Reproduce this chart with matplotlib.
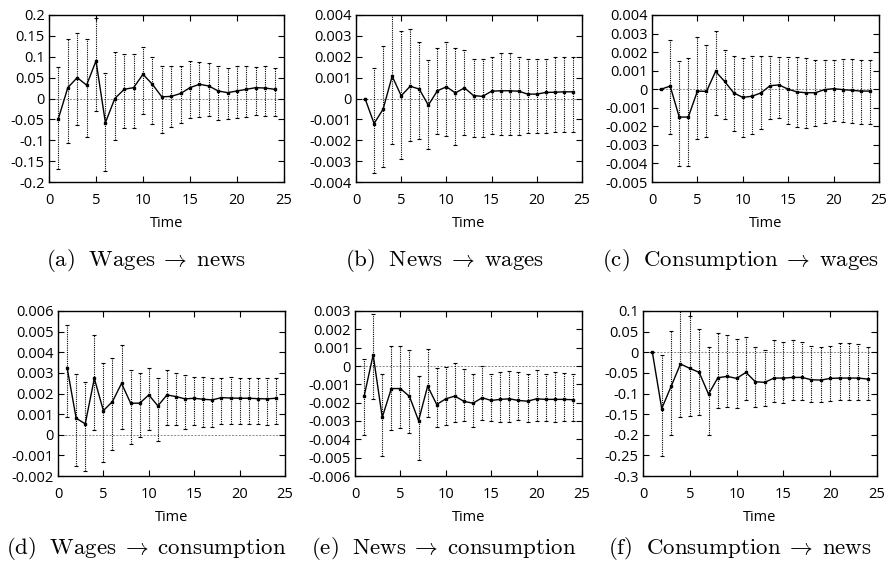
import numpy as np
import matplotlib
matplotlib.use("Agg")
import matplotlib.pyplot as plt

plt.rcParams['font.family'] = ['Open Sans', 'DejaVu Sans']
plt.rcParams['mathtext.fontset'] = 'cm'

t = list(range(1, 25))

# (a) Wages -> news
a_val = [-0.048, 0.026, 0.050, 0.032, 0.090, -0.058, 0.000, 0.022, 0.026, 0.058, 0.034, 0.004,
         0.005, 0.012, 0.026, 0.034, 0.030, 0.018, 0.014, 0.018, 0.022, 0.026, 0.025, 0.022]
a_hi = [0.076, 0.142, 0.156, 0.142, 0.192, 0.062, 0.112, 0.106, 0.106, 0.124, 0.100, 0.078,
        0.078, 0.078, 0.090, 0.088, 0.086, 0.078, 0.074, 0.078, 0.078, 0.076, 0.078, 0.074]
a_lo = [-0.168, -0.106, -0.064, -0.092, -0.030, -0.174, -0.100, -0.070, -0.070, -0.038, -0.060, -0.082,
        -0.068, -0.058, -0.046, -0.044, -0.042, -0.052, -0.050, -0.046, -0.044, -0.039, -0.042, -0.042]

# (b) News -> wages
b_val = [0.0, -0.00120, -0.00051, 0.00107, 0.00013, 0.00059, 0.00045, -0.00032, 0.00037, 0.00056,
         0.00027, 0.00051, 0.00014, 0.00010, 0.00035, 0.00037, 0.00037, 0.00035, 0.00021, 0.00021,
         0.00029, 0.00030, 0.00032, 0.00032]
b_hi = [0.0, 0.00147, 0.00253, 0.00420, 0.00323, 0.00331, 0.00269, 0.00184, 0.00240, 0.00269,
        0.00240, 0.00232, 0.00187, 0.00190, 0.00200, 0.00216, 0.00216, 0.00197, 0.00189, 0.00189,
        0.00189, 0.00197, 0.00200, 0.00197]
b_lo = [0.0, -0.00357, -0.00328, -0.00216, -0.00288, -0.00203, -0.00192, -0.00243, -0.00171, -0.00181,
        -0.00221, -0.00176, -0.00184, -0.00184, -0.00168, -0.00173, -0.00176, -0.00173, -0.00165, -0.00165,
        -0.00163, -0.00160, -0.00160, -0.00160]

# (c) Consumption -> wages
c_val = [0.0, 0.00017, -0.00150, -0.00150, -0.00010, -0.00012, 0.00096, 0.00042, -0.00020, -0.00044,
         -0.00038, -0.00020, 0.00019, 0.00023, 0.00000, -0.00015, -0.00019, -0.00019, -0.00002, 0.00003,
         -0.00002, -0.00006, -0.00010, -0.00010]
c_hi = [0.0, 0.00266, 0.00150, 0.00168, 0.00280, 0.00236, 0.00316, 0.00210, 0.00180, 0.00168,
        0.00177, 0.00177, 0.00177, 0.00173, 0.00173, 0.00171, 0.00168, 0.00159, 0.00159, 0.00159,
        0.00162, 0.00162, 0.00159, 0.00159]
c_lo = [0.0, -0.00244, -0.00415, -0.00415, -0.00268, -0.00260, -0.00140, -0.00160, -0.00227, -0.00257,
        -0.00244, -0.00214, -0.00159, -0.00155, -0.00187, -0.00203, -0.00209, -0.00196, -0.00182, -0.00170,
        -0.00175, -0.00182, -0.00186, -0.00186]

# (d) Wages -> consumption
d_val = [0.00326, 0.00080, 0.00053, 0.00273, 0.00117, 0.00161, 0.00249, 0.00153, 0.00153, 0.00193,
         0.00140, 0.00193, 0.00185, 0.00174, 0.00177, 0.00172, 0.00169, 0.00180, 0.00178, 0.00177,
         0.00177, 0.00175, 0.00174, 0.00177]
d_hi = [0.00531, 0.00293, 0.00257, 0.00482, 0.00350, 0.00370, 0.00434, 0.00314, 0.00297, 0.00326,
        0.00273, 0.00314, 0.00301, 0.00289, 0.00281, 0.00278, 0.00273, 0.00277, 0.00278, 0.00277,
        0.00277, 0.00273, 0.00273, 0.00273]
d_lo = [0.00088, -0.00153, -0.00174, 0.00024, -0.00132, -0.00076, 0.00027, -0.00045, -0.00011, 0.00024,
        -0.00032, 0.00048, 0.00045, 0.00027, 0.00045, 0.00040, 0.00040, 0.00053, 0.00053, 0.00053,
        0.00053, 0.00051, 0.00048, 0.00053]

# (e) News -> consumption
e_val = [-0.00166, 0.00061, -0.00280, -0.00123, -0.00123, -0.00166, -0.00298, -0.00110, -0.00210, -0.00179,
         -0.00164, -0.00193, -0.00203, -0.00173, -0.00188, -0.00182, -0.00179, -0.00188, -0.00192, -0.00179,
         -0.00182, -0.00182, -0.00182, -0.00184]
e_hi = [0.00039, 0.00285, -0.00041, 0.00107, 0.00107, 0.00088, -0.00055, 0.00092, -0.00013, -0.00004,
        0.00015, -0.00018, -0.00044, 0.00002, -0.00041, -0.00031, -0.00026, -0.00035, -0.00044, -0.00022,
        -0.00044, -0.00035, -0.00037, -0.00041]
e_lo = [-0.00376, -0.00179, -0.00492, -0.00348, -0.00339, -0.00366, -0.00514, -0.00276, -0.00335, -0.00322,
        -0.00304, -0.00302, -0.00330, -0.00295, -0.00298, -0.00308, -0.00308, -0.00295, -0.00308, -0.00298,
        -0.00298, -0.00304, -0.00302, -0.00298]

# (f) Consumption -> news
f_val = [0.0, -0.1366, -0.083, -0.0285, -0.039, -0.0488, -0.1016, -0.0618, -0.0585, -0.0634,
         -0.0488, -0.0715, -0.073, -0.0626, -0.0626, -0.061, -0.061, -0.0667, -0.0675, -0.0634,
         -0.0626, -0.0626, -0.0626, -0.065]
f_hi = [0.0, -0.0065, 0.051, 0.100, 0.087, 0.057, 0.0122, 0.046, 0.041, 0.0325,
        0.0366, 0.0138, 0.0057, 0.0285, 0.0244, 0.0285, 0.0244, 0.0146, 0.0138, 0.0163,
        0.022, 0.022, 0.0203, 0.0138]
f_lo = [0.0, -0.252, -0.200, -0.157, -0.154, -0.152, -0.200, -0.136, -0.132, -0.134,
        -0.116, -0.1325, -0.130, -0.1195, -0.122, -0.1155, -0.1155, -0.1195, -0.1195, -0.118,
        -0.116, -0.116, -0.1155, -0.116]

captions = [r'$\mathrm{(a)\ \ Wages}\;\rightarrow\;\mathrm{news}$',
            r'$\mathrm{(b)\ \ News}\;\rightarrow\;\mathrm{wages}$',
            r'$\mathrm{(c)\ \ Consumption}\;\rightarrow\;\mathrm{wages}$',
            r'$\mathrm{(d)\ \ Wages}\;\rightarrow\;\mathrm{consumption}$',
            r'$\mathrm{(e)\ \ News}\;\rightarrow\;\mathrm{consumption}$',
            r'$\mathrm{(f)\ \ Consumption}\;\rightarrow\;\mathrm{news}$']

panels = [
    (a_val, a_lo, a_hi, (-0.2, 0.2), 0.05),
    (b_val, b_lo, b_hi, (-0.004, 0.004), 0.001),
    (c_val, c_lo, c_hi, (-0.005, 0.004), 0.001),
    (d_val, d_lo, d_hi, (-0.002, 0.006), 0.001),
    (e_val, e_lo, e_hi, (-0.006, 0.003), 0.001),
    (f_val, f_lo, f_hi, (-0.3, 0.1), 0.05),
]

W, H = 890, 568
# axes boxes in pixels: left, right, top, bottom
boxes = [(49, 284, 15, 182), (356, 582, 15, 182), (652, 879, 15, 182),
         (58, 285, 311, 476), (355, 582, 311, 476), (643, 877, 311, 476)]
cap_x = [146, 444, 741, 146, 444, 740]
cap_y = [260, 260, 260, 548, 548, 548]

fig = plt.figure(figsize=(W / 100, H / 100), dpi=100)

for i, (val, lo, hi, ylim, step) in enumerate(panels):
    l, r, tp, b = boxes[i]
    ax = fig.add_axes([l / W, 1 - b / H, (r - l) / W, (b - tp) / H])
    val = np.array(val)
    err = [val - np.array(lo), np.array(hi) - val]
    ax.axhline(0, color='#888888', lw=0.7, ls=(0, (2, 1.5)), zorder=1)
    line, caps, bars = ax.errorbar(t, val, yerr=err, fmt='-', color='black', lw=1.0,
                                   marker='s', ms=1.8, elinewidth=0.8, capsize=1.2,
                                   capthick=0.8, zorder=3)
    bars[0].set_linestyle((0, (1, 1)))
    ax.set_xlim(0, 25)
    ax.set_ylim(*ylim)
    ax.set_xticks(range(0, 26, 5))
    yt = np.round(np.arange(ylim[0], ylim[1] + step / 2, step), 6)
    ax.set_yticks(yt)
    ax.set_yticklabels([f'{v + 0.0:g}' for v in yt])
    ax.tick_params(direction='in', top=True, right=True, length=4, width=0.8,
                   labelsize=10.5, pad=3)
    ax.tick_params(axis='x', pad=8)
    for s in ax.spines.values():
        s.set_linewidth(1.0)
    ax.set_xlabel('Time', fontsize=10.5, labelpad=6)
    fig.text(cap_x[i] / W, 1 - cap_y[i] / H, captions[i], fontsize=16.5,
             ha='center', va='center')

fig.savefig('out.png', dpi=100)
